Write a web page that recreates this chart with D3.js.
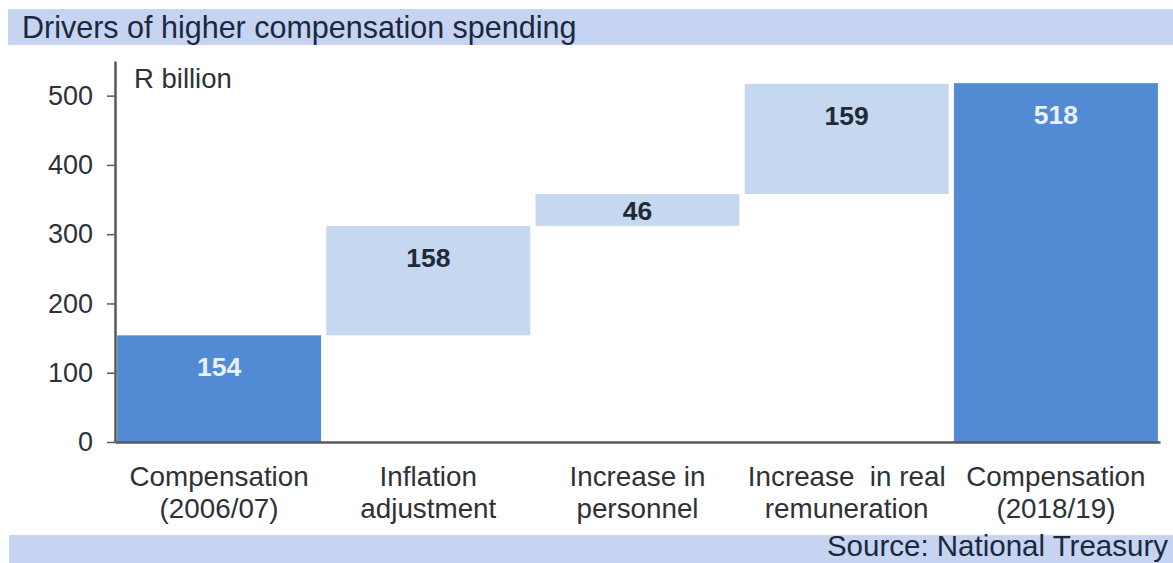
<!DOCTYPE html>
<html>
<head>
<meta charset="utf-8">
<script src="https://cdn.jsdelivr.net/npm/d3@7"></script>
<style>
  html, body { margin: 0; padding: 0; background: #ffffff; }
  svg { display: block; font-family: "Liberation Sans", Arial, sans-serif; }
  text { white-space: pre; }
</style>
</head>
<body>
<svg id="chart" width="1173" height="563"></svg>
<script>
// Waterfall data (R billion)
const categories = [
  ["Compensation", "(2006/07)"],
  ["Inflation", "adjustment"],
  ["Increase in", "personnel"],
  ["Increase  in real", "remuneration"],
  ["Compensation", "(2018/19)"]
];
const values = [154, 158, 46, 159, 518];
const kinds = ["total", "delta", "delta", "delta", "total"];
const yTicks = [0, 100, 200, 300, 400, 500];

const W = 1173, H = 563;
const svg = d3.select("#chart");

const titleBand = "#c6d4f2";
const darkBar = "#538ad4";
const lightBar = "#c6d8f0";
const axisColor = "#595959";
const textDark = "#2e3136";
const navy = "#1c2740";

// Title and source bands
svg.append("rect").attr("x", 8).attr("y", 9).attr("width", W - 8).attr("height", 36).attr("fill", titleBand);
svg.append("text").attr("x", 22).attr("y", 38).attr("font-size", 30.5).attr("fill", navy)
  .text("Drivers of higher compensation spending");

svg.append("rect").attr("x", 9).attr("y", 535).attr("width", W - 9).attr("height", 28).attr("fill", titleBand);
svg.append("text").attr("x", 1168).attr("y", 556).attr("font-size", 29.5).attr("fill", navy)
  .attr("text-anchor", "end").text("Source: National Treasury");

// Scales
const ids = d3.range(categories.length);
const x = d3.scaleBand().domain(ids).range([115, 1160]).paddingInner(0.025).paddingOuter(0.01);
const y = d3.scaleLinear().domain([0, 550]).range([442, 61]);

// Running positions for the waterfall
let running = 0;
const bars = values.map((v, i) => {
  let lo, hi;
  if (kinds[i] === "total") { lo = 0; hi = v; running = v; }
  else { lo = running; hi = running + v; running = hi; }
  return { i, v, lo, hi, kind: kinds[i] };
});

svg.append("g").selectAll("rect").data(bars).join("rect")
  .attr("x", d => x(d.i))
  .attr("width", x.bandwidth())
  .attr("y", d => y(d.hi))
  .attr("height", d => y(d.lo) - y(d.hi))
  .attr("fill", d => d.kind === "total" ? darkBar : lightBar);

// Value labels: near top of bar, centred when the bar is short
svg.append("g").selectAll("text").data(bars).join("text")
  .attr("x", d => x(d.i) + x.bandwidth() / 2)
  .attr("y", d => Math.min(y(d.hi) + 41, (y(d.hi) + y(d.lo)) / 2 + 10))
  .attr("text-anchor", "middle")
  .attr("font-size", 26.5).attr("font-weight", "bold")
  .attr("fill", d => d.kind === "total" ? "#e8f0fb" : "#1f2a38")
  .text(d => d.v);

// Y axis
const yAxis = d3.axisLeft(y).tickValues(yTicks).tickSize(8).tickSizeOuter(0).tickPadding(14);
const gy = svg.append("g").attr("transform", "translate(115,0)").call(yAxis);
gy.select(".domain").attr("stroke", axisColor).attr("stroke-width", 2.5);
gy.selectAll(".tick line").attr("stroke", axisColor).attr("stroke-width", 1.5);
gy.selectAll(".tick text").attr("font-size", 27).attr("fill", textDark)
  .attr("font-family", "Liberation Sans, Arial, sans-serif");

// X axis baseline with two-line category labels
const xAxis = d3.axisBottom(x).tickSize(0).tickSizeOuter(0).tickFormat(() => "");
const gx = svg.append("g").attr("transform", `translate(0,${y(0)})`).call(xAxis);
gx.select(".domain").attr("stroke", axisColor).attr("stroke-width", 2.5);

const catG = svg.append("g").selectAll("text").data(ids).join("text")
  .attr("text-anchor", "middle")
  .attr("font-size", 27.8).attr("fill", textDark)
  .attr("x", i => x(i) + x.bandwidth() / 2);
catG.selectAll("tspan").data(i => categories[i].map((t, k) => ({ t, k, i }))).join("tspan")
  .attr("x", d => x(d.i) + x.bandwidth() / 2)
  .attr("y", d => 486 + d.k * 32)
  .text(d => d.t);

// Unit label
svg.append("text").attr("x", 134).attr("y", 88).attr("font-size", 27.5).attr("fill", textDark)
  .text("R billion");
</script>
</body>
</html>
